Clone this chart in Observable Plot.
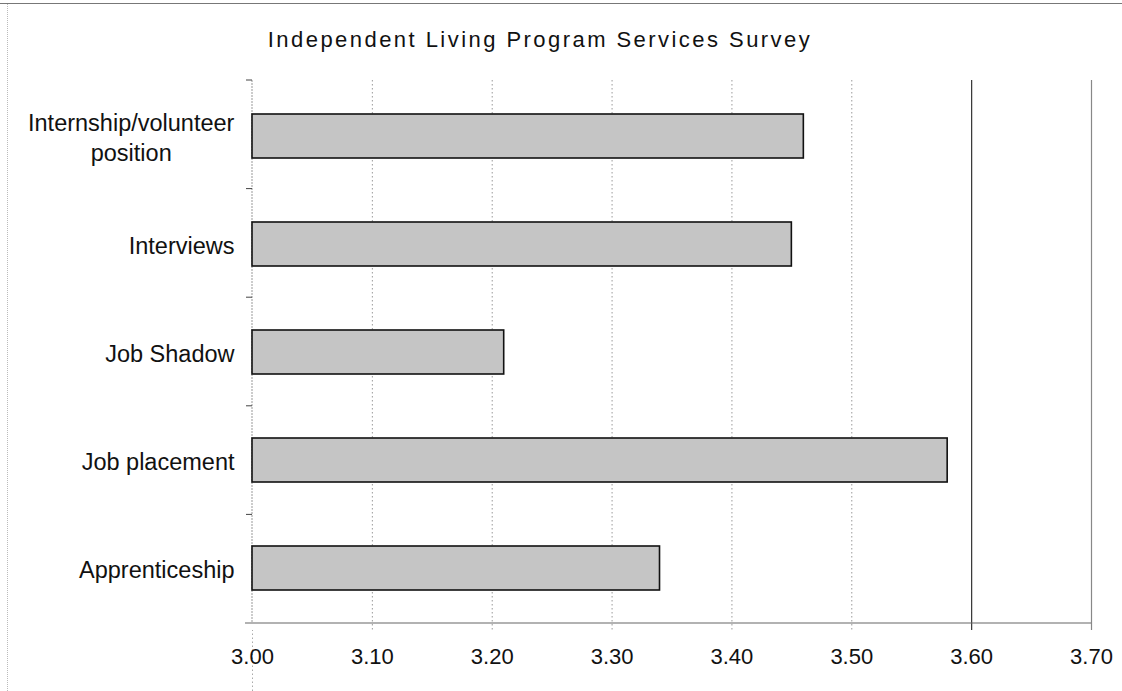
<!DOCTYPE html>
<html>
<head>
<meta charset="utf-8">
<script src="https://cdn.jsdelivr.net/npm/d3@7"></script>
<script src="https://cdn.jsdelivr.net/npm/@observablehq/plot@0.6"></script>
<style>
  html, body { margin: 0; padding: 0; background: #fff; }
  #wrap { position: relative; width: 1122px; height: 691px; overflow: hidden;
          font-family: "Liberation Sans", Arial, sans-serif; }
  #edgeTop { position: absolute; left: 0; top: 3px; width: 1122px; height: 0;
             border-top: 1px solid #777; }
  #edgeLeft { position: absolute; left: 7px; top: 4px; width: 0; height: 687px;
              border-left: 1px dotted #bbb; }
  #title { position: relative; height: 60px; }
  #title span { position: absolute; top: 28px; left: 0; width: 1080px; text-align: center;
                font-size: 22px; line-height: 24px; letter-spacing: 2.45px; color: #111; }
  #chart svg { display: block; }
</style>
</head>
<body>
<div id="wrap">
  <div id="edgeTop"></div>
  <div id="edgeLeft"></div>
  <div id="title"><span>Independent Living Program Services Survey</span></div>
  <div id="chart"></div>
</div>
<script>
// Survey services and their mean ratings
const categories = [
  "Internship/volunteer position",
  "Interviews",
  "Job Shadow",
  "Job placement",
  "Apprenticeship"
];
const categoryLabels = [
  "Internship/volunteer\nposition",
  "Interviews",
  "Job Shadow",
  "Job placement",
  "Apprenticeship"
];
const scores = [3.46, 3.45, 3.21, 3.58, 3.34];

// Value axis
const xDomain = [3.0, 3.7];
const xTicks = [3.0, 3.1, 3.2, 3.3, 3.4, 3.5, 3.6, 3.7];
const dottedGrid = [3.1, 3.2, 3.3, 3.4, 3.5];
const solidGrid = [3.6];
const edgeGrid = [3.7];

const rows = categories.map((c, i) => ({category: c, label: categoryLabels[i], score: scores[i]}));

// Layout
const W = 1122, H = 631;
const M = {top: 20, right: 31, bottom: 68, left: 252};

// Axis lines and category-boundary ticks
function frameLines() {
  const g = d3.create("svg:g");
  const innerH = H - M.top - M.bottom;
  const step = innerH / categories.length;
  // value axis line along the bottom
  g.append("line")
    .attr("x1", M.left - 7).attr("x2", W - M.right)
    .attr("y1", H - M.bottom).attr("y2", H - M.bottom)
    .attr("stroke", "#666").attr("stroke-width", 1.2);
  // category axis line
  g.append("line")
    .attr("x1", M.left).attr("x2", M.left)
    .attr("y1", M.top).attr("y2", H - M.bottom)
    .attr("stroke", "#999").attr("stroke-dasharray", "2,1");
  // ticks between categories
  for (let i = 0; i < categories.length; i++) {
    const y = M.top + i * step;
    g.append("line")
      .attr("x1", M.left - 6).attr("x2", M.left)
      .attr("y1", y).attr("y2", y)
      .attr("stroke", "#444");
  }
  return g.node();
}

const chart = Plot.plot({
  width: W,
  height: H,
  marginTop: M.top,
  marginRight: M.right,
  marginBottom: M.bottom,
  marginLeft: M.left,
  style: {fontFamily: "'Liberation Sans', Arial, sans-serif", color: "#111", background: "#fff"},
  x: {domain: xDomain, axis: null},
  y: {domain: categories, paddingInner: 0.595, paddingOuter: 0.2975, axis: null},
  marks: [
    Plot.ruleX(dottedGrid, {x: d => d, stroke: "#9a9a9a", strokeDasharray: "1.5,2.5", insetBottom: -7}),
    Plot.ruleX(solidGrid, {x: d => d, stroke: "#333", strokeWidth: 1.2, insetBottom: -7}),
    Plot.ruleX(edgeGrid, {x: d => d, stroke: "#888", strokeWidth: 1.2, insetBottom: -7}),
    Plot.ruleX([xDomain[0]], {x: d => d, stroke: "#aaa", strokeDasharray: "1.5,2.5", insetTop: H, insetBottom: -7}),
    frameLines,
    Plot.barX(rows, {
      y: "category",
      x1: () => xDomain[0],
      x2: "score",
      fill: "#c5c5c5",
      stroke: "#111",
      strokeWidth: 1.6
    }),
    Plot.axisX({
      ticks: xTicks,
      tickFormat: d3.format(".2f"),
      tickSize: 0,
      tickPadding: 24.7,
      fontSize: 22,
      fill: "#111",
      label: null
    }),
    Plot.text(rows, {
      y: "category",
      frameAnchor: "left",
      dx: -18,
      text: "label",
      textAnchor: "end",
      fontSize: 23.5,
      lineHeight: 1.28,
      fill: "#111"
    })
  ]
});

document.getElementById("chart").append(chart);

// Multi-line category labels are centred line by line, block right-aligned at the axis
chart.querySelectorAll("text").forEach(t => {
  if (t.querySelectorAll("tspan").length > 1) {
    const w = t.getBBox().width;
    const tr = t.getAttribute("transform") || "";
    t.setAttribute("text-anchor", "middle");
    t.setAttribute("transform", (tr + ` translate(${-w / 2},0)`).trim());
  }
});
</script>
</body>
</html>
